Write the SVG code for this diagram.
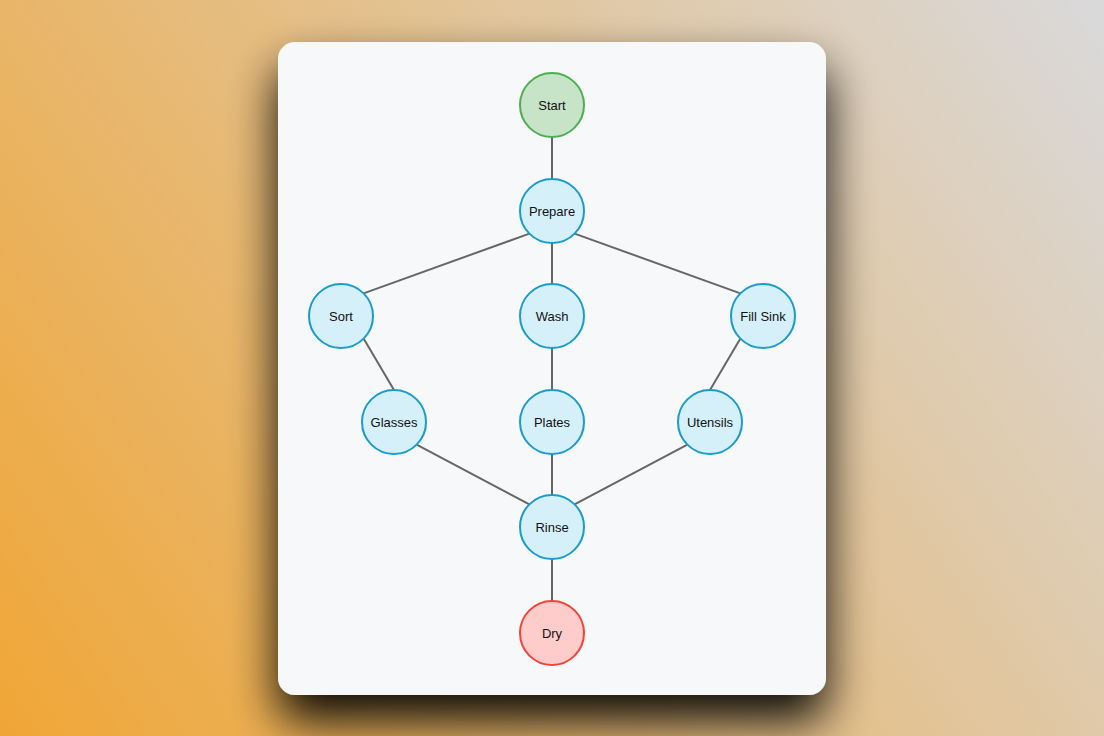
<svg xmlns="http://www.w3.org/2000/svg" width="1104" height="736" viewBox="0 0 1104 736">
<defs>
<linearGradient id="bg" x1="0" y1="736" x2="1104" y2="0" gradientUnits="userSpaceOnUse">
<stop offset="0" stop-color="#f0a636"/>
<stop offset="0.5" stop-color="#e4bf88"/>
<stop offset="1" stop-color="#d9d9db"/>
</linearGradient>
<filter id="sh" x="-30%" y="-30%" width="160%" height="160%">
<feGaussianBlur in="SourceAlpha" stdDeviation="24"/>
<feOffset dx="0" dy="26" result="b"/>
<feComponentTransfer><feFuncA type="linear" slope="0.95"/></feComponentTransfer>
<feMerge><feMergeNode/><feMergeNode in="SourceGraphic"/></feMerge>
</filter>
<style>
.n{fill:#d6f0f9;stroke:#1a9ccc;stroke-width:2}
.start{fill:#c8e4c8;stroke:#4caf50;stroke-width:2}
.end{fill:#ffcccc;stroke:#f44336;stroke-width:2}
.t{font-family:"Liberation Sans",Arial,sans-serif;font-size:13px;fill:#111;text-anchor:middle;dominant-baseline:central}
.e{stroke:#666;stroke-width:2;fill:none}
</style>
</defs>
<rect width="1104" height="736" fill="url(#bg)"/>
<rect x="278" y="42" width="548" height="653" rx="17" fill="#f7f8fa" filter="url(#sh)"/>
<g id="edges">
<line class="e" x1="552" y1="137" x2="552" y2="179"/>
<line class="e" x1="529.4" y1="233.6" x2="363.6" y2="293.4"/>
<line class="e" x1="552" y1="243" x2="552" y2="284"/>
<line class="e" x1="574.6" y1="233.6" x2="740.4" y2="293.4"/>
<line class="e" x1="363.6" y1="338.6" x2="394" y2="390"/>
<line class="e" x1="552" y1="348" x2="552" y2="390"/>
<line class="e" x1="740.4" y1="338.6" x2="710" y2="390"/>
<line class="e" x1="416.6" y1="444.6" x2="529.4" y2="504.4"/>
<line class="e" x1="552" y1="454" x2="552" y2="495"/>
<line class="e" x1="687.4" y1="444.6" x2="574.6" y2="504.4"/>
<line class="e" x1="552" y1="559" x2="552" y2="601"/>
</g>
<g id="start"><circle class="start" cx="552" cy="105" r="32"/><text class="t" x="552" y="105">Start</text></g>
<g id="prepare"><circle class="n" cx="552" cy="211" r="32"/><text class="t" x="552" y="211">Prepare</text></g>
<g id="sort"><circle class="n" cx="341" cy="316" r="32"/><text class="t" x="341" y="316">Sort</text></g>
<g id="wash"><circle class="n" cx="552" cy="316" r="32"/><text class="t" x="552" y="316">Wash</text></g>
<g id="fillsink"><circle class="n" cx="763" cy="316" r="32"/><text class="t" x="763" y="316">Fill Sink</text></g>
<g id="glasses"><circle class="n" cx="394" cy="422" r="32"/><text class="t" x="394" y="422">Glasses</text></g>
<g id="plates"><circle class="n" cx="552" cy="422" r="32"/><text class="t" x="552" y="422">Plates</text></g>
<g id="utensils"><circle class="n" cx="710" cy="422" r="32"/><text class="t" x="710" y="422">Utensils</text></g>
<g id="rinse"><circle class="n" cx="552" cy="527" r="32"/><text class="t" x="552" y="527">Rinse</text></g>
<g id="dry"><circle class="end" cx="552" cy="633" r="32"/><text class="t" x="552" y="633">Dry</text></g>
</svg>
